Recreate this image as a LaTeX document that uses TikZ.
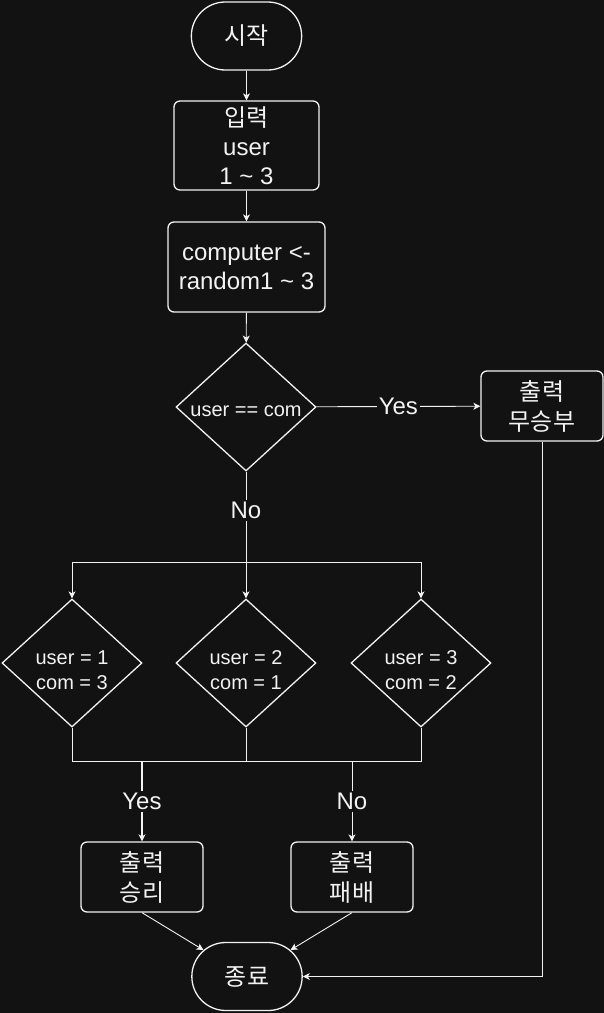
\documentclass[tikz,border=0pt]{standalone}
\usepackage{fontspec}
\setmainfont{Liberation Sans}
\newfontfamily\kr{Noto Sans CJK KR}
\usetikzlibrary{shapes.geometric,shapes.misc,arrows.meta}
\definecolor{bgdark}{HTML}{121212}
\definecolor{fg}{HTML}{F2F2F2}
\tikzset{
    terminal/.style={rounded rectangle, draw=fg, line width=1.3pt, text=fg,
        minimum width=117pt, minimum height=68pt, font=\kr\fontsize{24}{29}\selectfont},
    procbox/.style={rectangle, rounded corners=6pt, draw=fg, line width=1.3pt, text=fg,
        align=center, inner sep=0pt, font=\fontsize{24}{29}\selectfont},
    kr/.style={font=\kr\fontsize{24}{30}\selectfont},
    decision/.style={diamond, draw=fg, line width=1.3pt, text=fg, align=center,
        aspect=1.1, inner sep=0pt, minimum width=140pt, minimum height=128pt,
        text height=19pt, text depth=1pt, font=\fontsize{20}{25}\selectfont},
    twolines/.style={text height=53pt, text depth=0pt},
    arr/.style={draw=fg, line width=0.9pt, -{Stealth[length=7pt,width=7pt,inset=2pt]}},
    link/.style={draw=fg, line width=0.9pt},
    lbl/.style={fill=bgdark, text=fg, inner sep=2pt, font=\fontsize{24}{29}\selectfont}
}
\begin{document}
\begin{tikzpicture}[x=1pt, y=-1pt]
    \path[use as bounding box, fill=bgdark] (0,0) rectangle (604,1013);
    % Start and input
    \node[terminal] (start) at (246.5,36) {시작};
    \node[procbox, minimum width=145pt, minimum height=89pt] (input) at (246.5,145.5)
        {{\kr 입력}\\user\\1 \textasciitilde{} 3};
    \node[procbox, minimum width=157pt, minimum height=90pt] (rand) at (246.5,267)
        {computer <-\\random1 \textasciitilde{} 3};
    % First check
    \node[decision] (same) at (246,407) {user == com};
    \node[procbox, kr, minimum width=122pt, minimum height=70pt] (tie) at (542,406) {출력\\무승부};
    % Cases
    \foreach \name/\x/\u/\c in {left/72/1/3, mid/246/2/1, right/421/3/2} {
        \node[decision, twolines] (case-\name) at (\x,663) {user = \u\\com = \c};
    }
    \coordinate (split) at (246,562);
    \coordinate (merge) at (246,761);
    % Results
    \node[procbox, kr, minimum width=122pt, minimum height=70pt] (win) at (142,877) {출력\\승리};
    \node[procbox, kr, minimum width=122pt, minimum height=70pt] (lose) at (352,877) {출력\\패배};
    \node[terminal] (finish) at (247,976.5) {종료};
    % Arrows
    \draw[arr] (start) -- (input);
    \draw[arr] (input) -- (rand);
    \draw[arr] (rand) -- (same);
    \draw[arr] (same) -- node[lbl] {Yes} (tie);
    \draw[arr] (tie) |- (finish);
    \draw[link] (same) -- node[lbl, pos=0.43] {No} (split);
    \draw[arr] (split) -| (case-left);
    \draw[arr] (split) -| (case-right);
    \draw[arr] (split) -- (case-mid);
    \draw[link] (case-left) |- (merge) -| (case-right);
    \draw[link] (case-mid) -- (merge);
    \draw[arr, line width=2pt] (win |- merge) -- node[lbl] {Yes} (win);
    \draw[arr] (lose |- merge) -- node[lbl] {No} (lose);
    \draw[arr] (win.south) -- (finish);
    \draw[arr] (lose.south) -- (finish);
\end{tikzpicture}
\end{document}
